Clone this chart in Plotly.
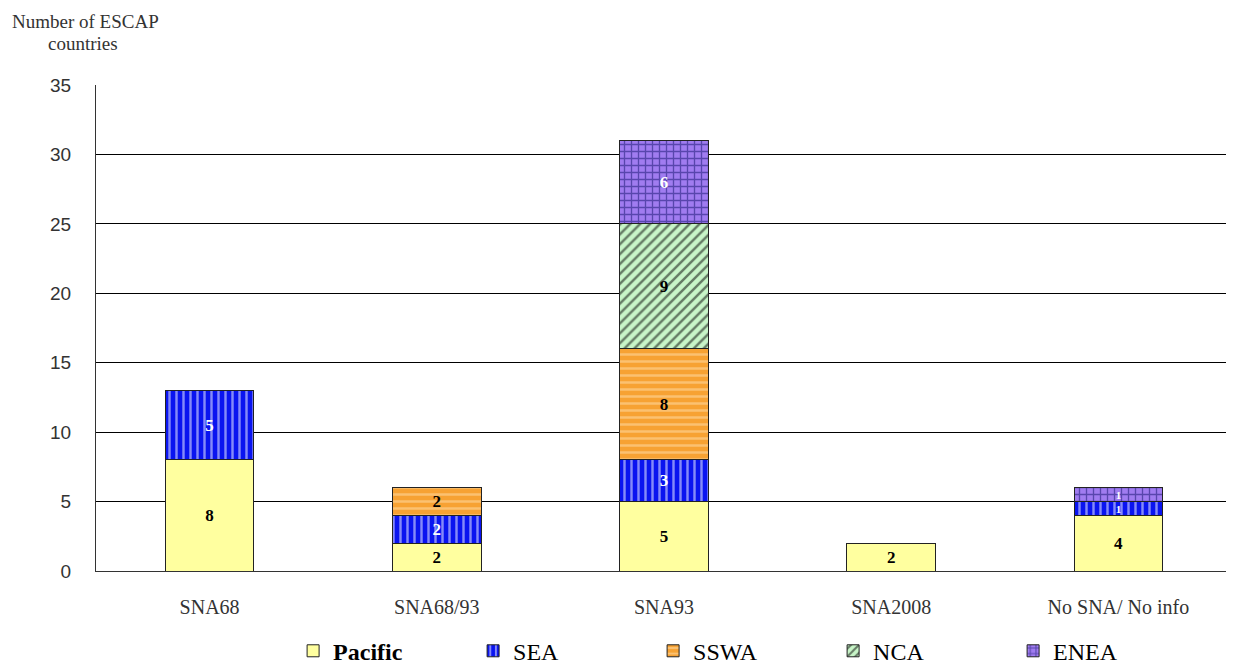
import plotly.graph_objects as go

categories = ["SNA68", "SNA68/93", "SNA93", "SNA2008", "No SNA/ No info"]
pacific = [8, 2, 5, 2, 4]
sea = [5, 2, 3, 0, 1]
sswa = [0, 2, 8, 0, 0]
nca = [0, 0, 9, 0, 0]
enea = [0, 0, 6, 0, 1]
y_ticks = [0, 5, 10, 15, 20, 25, 30, 35]

SERIF = "Liberation Serif"

series = [
    ("<b>Pacific</b>", pacific, "#ffff9f", "", "#ffff9f", "black"),
    ("SEA", sea, "#0a14f0", "|", "white", "white"),
    ("SSWA", sswa, "#f7a233", "-", "#ffe0b0", "black"),
    ("NCA", nca, "#c8f5c8", "/", "black", "black"),
    ("ENEA", enea, "#a07cf0", "+", "#10106a", "white"),
]

fig = go.Figure()
for i, (name, vals, col, shape, fg, tcol) in enumerate(series):
    marker = dict(color=col, line=dict(color="#222", width=1))
    if shape:
        marker["pattern"] = dict(shape=shape, fgcolor=fg, bgcolor=col, size=7, solidity=0.35,
                                 fillmode="overlay")
    fig.add_trace(go.Bar(
        name=name, x=categories, y=[v if v else None for v in vals],
        text=[f"<b>{v}</b>" if v else "" for v in vals],
        textposition="inside", insidetextanchor="middle", textangle=0,
        textfont=dict(family=SERIF, size=[17 if v > 1 else 11 for v in vals], color=tcol),
        marker=marker, width=0.39,
    ))

# page body has an 8px margin, so the figure is sized to fit the 1234x666 window
fig.update_layout(
    barmode="stack",
    width=1226, height=658,
    font=dict(family=SERIF, color="black"),
    margin=dict(l=88, r=2, t=77, b=95, autoexpand=False),
    plot_bgcolor="white", paper_bgcolor="white",
    uniformtext=dict(minsize=10, mode="show"),
    showlegend=True,
    legend=dict(orientation="h", x=0.1735, xanchor="left", y=-0.165, yanchor="middle",
                font=dict(family=SERIF, size=24, color="black"),
                itemwidth=30, entrywidth=135, entrywidthmode="pixels",
                traceorder="normal", bgcolor="rgba(0,0,0,0)"),
    xaxis=dict(showline=True, linecolor="#333", linewidth=1, ticks="", ticklabelstandoff=18,
               tickfont=dict(family=SERIF, size=20, color="#333")),
    yaxis=dict(range=[0, 35], tickvals=y_ticks, showgrid=True, gridcolor="black", gridwidth=1,
               showline=True, linecolor="#333", linewidth=1, ticks="", zeroline=False,
               ticklabelstandoff=20,
               tickfont=dict(family="Liberation Sans", size=19, color="#333")),
)
fig.add_annotation(xref="paper", yref="paper", x=-0.0757, y=1.157, xanchor="left", yanchor="top",
                   text="Number of ESCAP", showarrow=False,
                   font=dict(family=SERIF, size=19, color="#333"))
fig.add_annotation(xref="paper", yref="paper", x=-0.044, y=1.112, xanchor="left", yanchor="top",
                   text="countries", showarrow=False,
                   font=dict(family=SERIF, size=19, color="#333"))
fig.write_html("out.html")
